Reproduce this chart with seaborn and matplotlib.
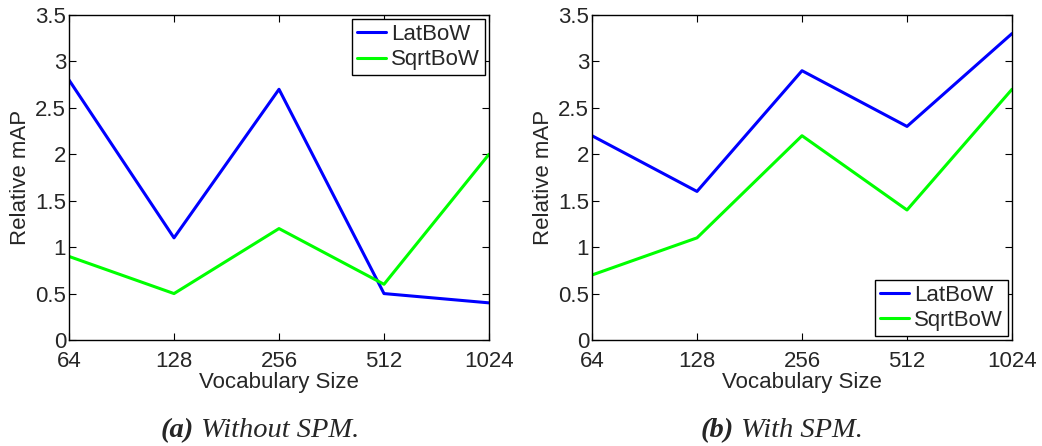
import numpy as np
import pandas as pd
import matplotlib
matplotlib.use("Agg")
import matplotlib.pyplot as plt
import seaborn as sns

vocab_sizes = [64, 128, 256, 512, 1024]
methods = ["LatBoW", "SqrtBoW"]

# panel (a): without SPM
latbow_no_spm = [2.8, 1.1, 2.7, 0.5, 0.4]
sqrtbow_no_spm = [0.9, 0.5, 1.2, 0.6, 2.0]
# panel (b): with SPM
latbow_spm = [2.2, 1.6, 2.9, 2.3, 3.3]
sqrtbow_spm = [0.7, 1.1, 2.2, 1.4, 2.7]

captions = ["Without SPM.", "With SPM."]
letters = ["(a)", "(b)"]

sns.set_theme(style="ticks")
plt.rcParams["font.family"] = ["Liberation Sans", "DejaVu Sans"]
plt.rcParams["xtick.direction"] = "in"
plt.rcParams["ytick.direction"] = "in"
plt.rcParams["xtick.top"] = True
plt.rcParams["ytick.right"] = True

palette = {"LatBoW": "#0000ff", "SqrtBoW": "#00ff00"}


def make_df(lat, sqrt):
    return pd.DataFrame({
        "size": vocab_sizes * 2,
        "map": lat + sqrt,
        "method": ["LatBoW"] * len(lat) + ["SqrtBoW"] * len(sqrt),
    })


panels = [make_df(latbow_no_spm, sqrtbow_no_spm), make_df(latbow_spm, sqrtbow_spm)]
legend_locs = ["upper right", "lower right"]

fig = plt.figure(figsize=(10.42, 4.46), dpi=100)
lefts = [69 / 1042, 592 / 1042]
centers = [260 / 1042, 782 / 1042]

for i, df in enumerate(panels):
    ax = fig.add_axes([lefts[i], 1 - 340 / 446, 420 / 1042, 325 / 446])
    sns.lineplot(data=df, x="size", y="map", hue="method", hue_order=methods,
                 palette=palette, linewidth=2.2, ax=ax)
    ax.set_xscale("log", base=2)
    ax.set_xlim(64, 1024)
    ax.set_ylim(0, 3.5)
    ax.set_xticks(vocab_sizes)
    ax.set_xticklabels([str(v) for v in vocab_sizes])
    ax.minorticks_off()
    ax.set_yticks(np.arange(0, 3.51, 0.5))
    ax.set_yticklabels(["0", "0.5", "1", "1.5", "2", "2.5", "3", "3.5"])
    ax.tick_params(labelsize=16, length=5, width=0.8, color="black")
    ax.tick_params(axis="x", pad=8)
    ax.tick_params(axis="y", pad=2)
    for s in ax.spines.values():
        s.set_color("black")
        s.set_linewidth(1.0)
    ax.set_xlabel("Vocabulary Size", fontsize=16, labelpad=0)
    ax.set_ylabel("Relative mAP", fontsize=16, labelpad=3)
    leg = ax.legend(loc=legend_locs[i], fontsize=16, fancybox=False,
                    edgecolor="black", framealpha=1, borderpad=0.2,
                    handlelength=1.3, handletextpad=0.25, labelspacing=0.2,
                    borderaxespad=0.2)
    leg.get_frame().set_linewidth(1.0)
    for line in leg.get_lines():
        line.set_linewidth(2.2)

fig.canvas.draw()
# captions: bold-italic letter followed by italic text, centred as a pair
renderer = fig.canvas.get_renderer()
for i in range(2):
    a = fig.text(0, 0.02, letters[i], fontsize=20.5, family=["Liberation Serif"],
                 style="italic", weight="bold", va="baseline")
    b = fig.text(0, 0.02, " " + captions[i], fontsize=20.5,
                 family=["Liberation Serif"], style="italic", va="baseline")
    wa = a.get_window_extent(renderer).width / fig.bbox.width
    wb = b.get_window_extent(renderer).width / fig.bbox.width
    x0 = centers[i] - (wa + wb) / 2
    a.set_x(x0)
    b.set_x(x0 + wa)

fig.savefig("out.png", dpi=100)
